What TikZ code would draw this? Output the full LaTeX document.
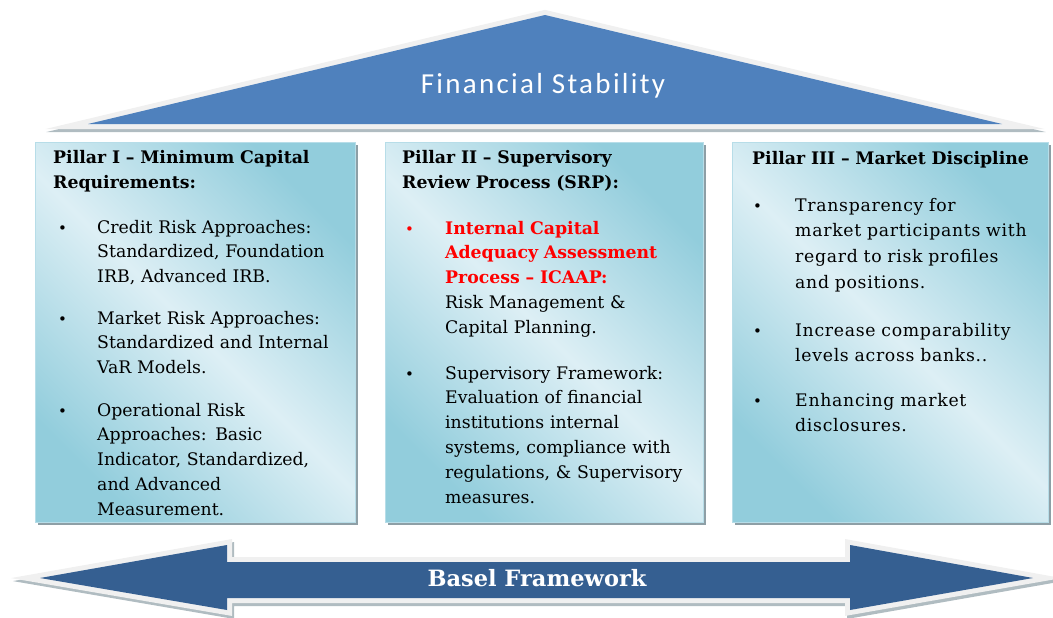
\documentclass[tikz,border=0pt]{standalone}
\usepackage{fontspec}
\setmainfont{DejaVu Serif}
\newfontfamily\calib[LetterSpace=8]{Carlito}
\newfontfamily\widefont[LetterSpace=4]{DejaVu Serif}
\usetikzlibrary{shadows}

\definecolor{triblue}{HTML}{4F81BD}
\definecolor{arrblue}{HTML}{355F91}
\definecolor{boxdark}{HTML}{92CDDC}
\definecolor{boxlight}{HTML}{DDEFF5}
\definecolor{boxline}{HTML}{B7DDE8}
\definecolor{shadowgrey}{HTML}{8E9FA6}
\definecolor{glow}{HTML}{F0F0F0}

\tikzset{
  pillar/.style={rectangle, draw=boxline, line width=1pt, minimum height=380pt,
    top color=boxdark, bottom color=boxdark, middle color=boxlight, shading angle=-45,
    drop shadow={shadow xshift=3pt, shadow yshift=-3pt, fill=shadowgrey, opacity=1}},
  head/.style={anchor=base west, inner sep=0pt, text width=300pt, align=left,
    font=\bfseries\fontsize{17.3}{25}\selectfont},
  item/.style={anchor=base west, inner sep=0pt, text width=280pt, align=left,
    font=\fontsize{17.3}{24.8}\selectfont},
  wideitem/.style={item, font=\widefont\fontsize{17.3}{25.8}\selectfont},
  dot/.style={anchor=base west, inner sep=0pt, font=\fontsize{15}{25}\selectfont},
  glowline/.style={line width=10pt, line join=miter, miter limit=20},
}

\begin{document}
\begin{tikzpicture}[x=1pt, y=-1pt]
  \useasboundingbox (0,0) rectangle (1053,618);

  % roof
  \draw[glowline, draw=shadowgrey!70, shift={(1,3)}] (88,124) -- (545,15) -- (1002,124) -- cycle;
  \draw[glowline, draw=glow] (88,124) -- (545,15) -- (1002,124) -- cycle;
  \fill[triblue] (88,124) -- (545,15) -- (1002,124) -- cycle;
  \node[text=white, font=\calib\fontsize{29}{33}\selectfont] (fin) at (543,86) {Financial Stability};

  % pillars
  \node[pillar, minimum width=320pt] (box1) at (195,332) {};
  \node[pillar, minimum width=318pt] (box2) at (544,332) {};
  \node[pillar, minimum width=316pt] (box3) at (890,332) {};

  \node[head] (head1) at (53,163) {Pillar I – Minimum Capital\\Requirements:};
  \node[dot] (dot1a) at (58,233) {\textbullet};
  \node[item] (item1a) at (97,233) {Credit Risk Approaches:\\Standardized, Foundation\\IRB, Advanced IRB.};
  \node[dot] (dot1b) at (58,324) {\textbullet};
  \node[item] (item1b) at (97,324) {Market Risk Approaches:\\Standardized and Internal\\VaR Models.};
  \node[dot] (dot1c) at (58,416) {\textbullet};
  \node[item] (item1c) at (97,416) {Operational Risk\\Approaches: Basic\\Indicator, Standardized,\\and Advanced\\Measurement.};

  \node[head] (head2) at (402,163) {Pillar II – Supervisory\\Review Process (SRP):};
  \node[dot, text=red] (dot2a) at (405,234) {\textbullet};
  \node[item] (item2a) at (445,234) {{\color{red}\bfseries Internal Capital\\Adequacy Assessment\\Process – ICAAP:}\\Risk Management \&\\Capital Planning.};
  \node[dot] (dot2b) at (405,379) {\textbullet};
  \node[item] (item2b) at (445,379) {Supervisory Framework:\\Evaluation of financial\\institutions internal\\systems, compliance with\\regulations, \& Supervisory\\measures.};

  \node[head] (head3) at (752,164) {Pillar III – Market Discipline};
  \node[dot] (dot3a) at (753,211) {\textbullet};
  \node[wideitem] (item3a) at (795,211) {Transparency for\\market participants with\\regard to risk profiles\\and positions.};
  \node[dot] (dot3b) at (753,336) {\textbullet};
  \node[wideitem] (item3b) at (795,336) {Increase comparability\\levels across banks..};
  \node[dot] (dot3c) at (753,406) {\textbullet};
  \node[wideitem] (item3c) at (795,406) {Enhancing market\\disclosures.};

  % base arrow
  \draw[glowline, draw=shadowgrey!70, shift={(2,3)}] (40,578) -- (227,545) -- (227,562) -- (850,562) -- (850,545) -- (1033,578)
    -- (850,610) -- (850,598) -- (227,598) -- (227,610) -- cycle;
  \draw[glowline, draw=glow] (40,578) -- (227,545) -- (227,562) -- (850,562) -- (850,545) -- (1033,578)
    -- (850,610) -- (850,598) -- (227,598) -- (227,610) -- cycle;
  \fill[arrblue] (40,578) -- (227,545) -- (227,562) -- (850,562) -- (850,545) -- (1033,578)
    -- (850,610) -- (850,598) -- (227,598) -- (227,610) -- cycle;
  \node[text=white, font=\bfseries\fontsize{22.5}{26}\selectfont] (basel) at (537,578) {Basel Framework};
\end{tikzpicture}
\end{document}
